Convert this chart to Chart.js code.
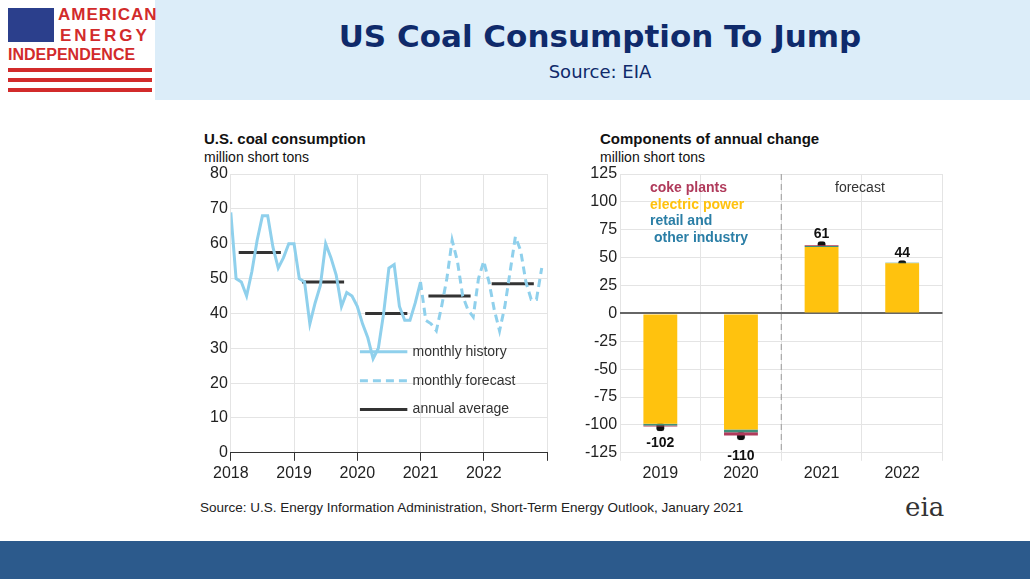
<!DOCTYPE html>
<html><head><meta charset="utf-8">
<script src="https://cdn.jsdelivr.net/npm/chart.js@4"></script>
<style>
body{margin:0;width:1030px;height:579px;position:relative;background:#fff;font-family:"Liberation Sans",Arial,sans-serif;overflow:hidden}
.abs{position:absolute}
#hdr{left:155px;top:0;width:875px;height:100px;background:#dcedf9}
#title{left:155px;width:890px;top:18px;text-align:center;font-family:Tahoma,"DejaVu Sans",sans-serif;font-weight:bold;font-size:31px;color:#0f2a6b}
#sub{left:155px;width:890px;top:61px;text-align:center;font-family:"DejaVu Sans",sans-serif;font-size:18px;color:#0f2a6b}
#foot{left:0;top:541px;width:1030px;height:38px;background:#2c5a8c}
.ct{font-weight:bold;font-size:15px;color:#111}
.cu{font-size:14px;color:#111}
.lg{font-size:14px;color:#333}
</style></head><body>
<div id="hdr" class="abs"></div>
<div class="abs" style="left:8px;top:8px;width:46px;height:34px;background:#2b3f8c"></div>
<div class="abs" style="left:8px;top:68px;width:144px;height:4px;background:#d22b2b"></div>
<div class="abs" style="left:8px;top:78px;width:144px;height:4px;background:#d22b2b"></div>
<div class="abs" style="left:8px;top:88px;width:144px;height:4px;background:#d22b2b"></div>
<div class="abs" style="left:58px;top:5px;font-weight:bold;font-size:17px;color:#d22b2b;letter-spacing:1px">AMERICAN</div>
<div class="abs" style="left:60px;top:26px;font-weight:bold;font-size:17px;color:#d22b2b;letter-spacing:3px">ENERGY</div>
<div class="abs" style="left:6px;top:46px;font-weight:bold;font-size:16px;color:#d22b2b;background:#fff;padding:0 2px">INDEPENDENCE</div>
<div id="title" class="abs">US Coal Consumption To Jump</div>
<div id="sub" class="abs">Source: EIA</div>
<div id="foot" class="abs"></div>
<div class="abs ct" style="left:204px;top:130px">U.S. coal consumption</div>
<div class="abs cu" style="left:204px;top:149px">million short tons</div>
<div class="abs ct" style="left:600px;top:130px">Components of annual change</div>
<div class="abs cu" style="left:600px;top:149px">million short tons</div>
<div class="abs" style="left:200px;top:500px;font-size:13.5px;color:#222">Source: U.S. Energy Information Administration, Short-Term Energy Outlook, January 2021</div>
<div class="abs" style="left:905px;top:492px;font-size:26px;color:#333;font-family:'DejaVu Serif',serif">eia</div>
<div class="abs" style="left:195px;top:160px;width:355px;height:326px"><canvas id="c1"></canvas></div>
<div class="abs" style="left:570px;top:160px;width:378px;height:326px"><canvas id="c2"></canvas></div>
<div class="abs lg" style="left:650px;top:179px;font-weight:bold;color:#b03a5b">coke plants</div>
<div class="abs lg" style="left:650px;top:196px;font-weight:bold;color:#ffc20e">electric power</div>
<div class="abs lg" style="left:650px;top:212px;font-weight:bold;color:#2a7ea6">retail and</div>
<div class="abs lg" style="left:654px;top:229px;font-weight:bold;color:#2a7ea6">other industry</div>
<div class="abs lg" style="left:835px;top:179px">forecast</div>
<script>
const yearLabels=["2018","2019","2020","2021","2022"];
const history=[69,50,49,45,52,61,68,68,59,53,56,60, 60,50,49,37,43,48,60,56,51,42,46,45, 42,37,33,27,30,40,53,54,42,38,38,43, 49];
const forecast=[49,38,37,35,42,50,61,55,45,41,39,50, 55,49,41,35,42,52,62,58,49,44,44,53];
const annualAvg=[57.5,49,40,45,48.5];
const barCats=["2019","2020","2021","2022"];
const electric=[-99,-104,59.5,45];
const retail=[-1.5,-2.5,1,0.5];
const coke=[-1,-3,0.5,0];
const totals=[-102,-110,61,44];

const blue='#8fd0ec';
const ds=[
 {data:history.map((v,i)=>({x:i,y:v})),borderColor:blue,borderWidth:3,pointRadius:0,tension:0},
 {data:forecast.map((v,i)=>({x:36+i,y:v})),borderColor:blue,borderWidth:3,borderDash:[8,5],pointRadius:0,tension:0}
];
annualAvg.forEach((v,i)=>ds.push({data:[{x:12*i+1.5,y:v},{x:12*i+9.5,y:v}],borderColor:'#333',borderWidth:3,pointRadius:0}));
const font={family:'"Liberation Sans",Arial',size:16};
new Chart(document.getElementById('c1'),{type:'line',data:{datasets:ds},options:{
 responsive:true,maintainAspectRatio:false,animation:false,
 layout:{padding:{top:14,right:2,bottom:0,left:12}},
 plugins:{legend:{display:false},tooltip:{enabled:false}},
 scales:{x:{type:'linear',min:0,max:60,ticks:{stepSize:12,color:'#222',font,callback:v=>yearLabels[v/12]||''},grid:{color:'#e4e4e4',drawTicks:true,tickColor:'#333'},border:{color:'#333'}},
  y:{min:0,max:80,ticks:{stepSize:10,color:'#222',font},grid:{color:'#e4e4e4',drawTicks:false},border:{display:false}}}},
 plugins:[{id:'lg',afterDraw(c){const x=c.ctx,a=c.scales.x,y=c.scales.y;x.save();
  const items=[['monthly history',[],blue],['monthly forecast',[8,5],blue],['annual average',[],'#333']];
  items.forEach((it,i)=>{const yy=y.getPixelForValue(29-i*8.3);x.setLineDash(it[1]);x.strokeStyle=it[2];x.lineWidth=3;x.beginPath();x.moveTo(a.getPixelForValue(24.5),yy);x.lineTo(a.getPixelForValue(33.5),yy);x.stroke();
  x.setLineDash([]);x.fillStyle='#333';x.font='14px "Liberation Sans",Arial';x.textBaseline='middle';x.fillText(it[0],a.getPixelForValue(34.5),yy);});x.restore();}}]
});

new Chart(document.getElementById('c2'),{type:'bar',data:{labels:barCats,datasets:[
 {data:electric,backgroundColor:'#ffc20e',barPercentage:0.42,categoryPercentage:1},
 {data:retail,backgroundColor:'#3f8f7a',barPercentage:0.42,categoryPercentage:1},
 {data:coke,backgroundColor:'#b03a5b',barPercentage:0.42,categoryPercentage:1},
 {type:'scatter',data:totals.map((v,i)=>({x:i,y:v})),backgroundColor:'#111',pointRadius:4.5,pointStyle:'rectRounded'}
]},options:{responsive:true,maintainAspectRatio:false,animation:false,
 layout:{padding:{top:14,right:2,bottom:0,left:12}},
 plugins:{legend:{display:false},tooltip:{enabled:false}},
 scales:{x:{stacked:true,ticks:{color:'#222',font},grid:{color:'#e4e4e4',offset:true},border:{color:'#e4e4e4'}},
  y:{stacked:true,min:-125,max:125,ticks:{stepSize:25,color:'#222',font},grid:{color:c=>c.tick.value===0?'#666':'#e4e4e4',lineWidth:c=>c.tick.value===0?2:1,drawTicks:false},border:{display:false}}}},
 plugins:[{id:'lab',afterDraw(c){const x=c.ctx,a=c.scales.x,y=c.scales.y;x.save();
  const dx=(a.getPixelForValue(1)+a.getPixelForValue(2))/2;x.setLineDash([6,4]);x.strokeStyle='#999';x.lineWidth=1;x.beginPath();x.moveTo(dx,y.top);x.lineTo(dx,y.bottom);x.stroke();x.setLineDash([]);
  x.font='bold 14px "Liberation Sans",Arial';x.fillStyle='#111';x.textAlign='center';x.textBaseline='middle';
  totals.forEach((v,i)=>{x.fillText(String(v),a.getPixelForValue(i),y.getPixelForValue(v<0?(i==0?-116:-128):v+10));});
  x.restore();}}]
});
</script></body></html>
